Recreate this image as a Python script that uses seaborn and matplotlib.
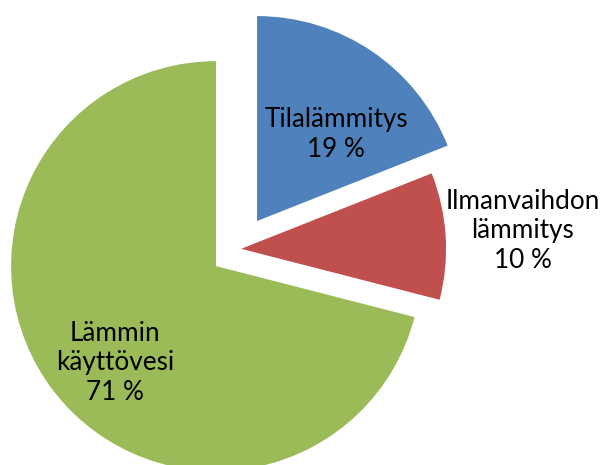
import matplotlib
matplotlib.use("Agg")
import matplotlib.pyplot as plt
import seaborn as sns

categories = ["Tilalämmitys", "Ilmanvaihdon\nlämmitys", "Lämmin\nkäyttövesi"]
values = [19, 10, 71]
pct_labels = ["19 %", "10 %", "71 %"]
colors = ["#4F81BD", "#C0504D", "#9BBB59"]
explode = [0.165, 0.015, 0.136]

sns.set_theme(style="white")
plt.rcParams["font.family"] = ["Lato", "DejaVu Sans"]

fig = plt.figure(figsize=(6.05, 4.65), dpi=100)
ax = fig.add_axes([0, 0, 1, 1])
wedges, _ = ax.pie(values, colors=colors, explode=explode, startangle=90,
                   counterclock=False, radius=1.0,
                   wedgeprops=dict(linewidth=0))
ax.set_aspect("equal")
ax.set_xlim(-1.161, 1.790)
ax.set_ylim(-1.054, 1.215)
ax.axis("off")

label_pos = [(0.478, 0.559), (1.390, 0.088), (-0.600, -0.556)]
for cat, pct, (x, y) in zip(categories, pct_labels, label_pos):
    ax.text(x, y, f"{cat}\n{pct}", ha="center", va="center",
            multialignment="center", fontsize=18.8, color="black",
            linespacing=1.22)

fig.savefig("out.png", dpi=100, facecolor="white")
